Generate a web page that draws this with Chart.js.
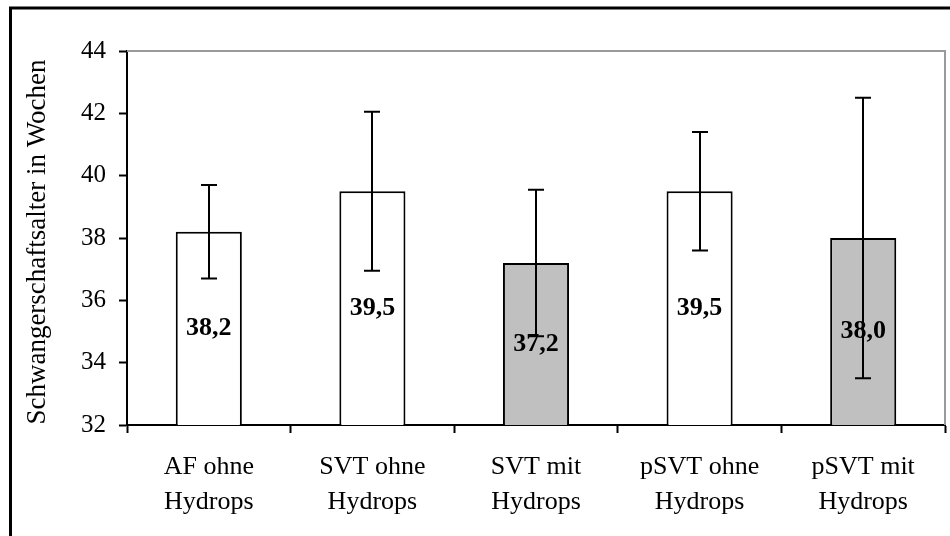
<!DOCTYPE html>
<html>
<head>
<meta charset="utf-8">
<script src="https://cdn.jsdelivr.net/npm/chart.js@4"></script>
<style>
  html, body { margin: 0; padding: 0; background: #ffffff; }
  #wrap { width: 950px; height: 536px; }
</style>
</head>
<body>
<div id="wrap"><canvas id="chart" width="950" height="536"></canvas></div>
<script>
// Gestationsalter bei Geburt nach Gruppe (Mittelwert ± SD, Wochen)
const categories = [
  ["AF ohne", "Hydrops"],
  ["SVT ohne", "Hydrops"],
  ["SVT mit", "Hydrops"],
  ["pSVT ohne", "Hydrops"],
  ["pSVT mit", "Hydrops"]
];
const meanWeeks = [38.2, 39.5, 37.2, 39.5, 38.0];
const sdWeeks = [1.5, 2.55, 2.35, 1.9, 4.5];
const withHydrops = [false, false, true, false, true];
const yTickValues = [32, 34, 36, 38, 40, 42, 44];
const yAxisTitle = "Schwangerschaftsalter in Wochen";

const SERIF = "'Liberation Serif', 'Times New Roman', serif";

const barFill = withHydrops.map(h => (h ? '#c0c0c0' : '#ffffff'));

// White page, outer frame, grey plot-area border and the y-axis title
const framePlugin = {
  id: 'frame',
  beforeDraw(chart) {
    const ctx = chart.ctx;
    ctx.save();
    ctx.fillStyle = '#ffffff';
    ctx.fillRect(0, 0, chart.width, chart.height);
    ctx.restore();
  },
  beforeDatasetsDraw(chart) {
    const { ctx, chartArea: a } = chart;
    ctx.save();
    ctx.strokeStyle = '#9a9a9a';
    ctx.lineWidth = 2;
    ctx.beginPath();
    ctx.moveTo(a.left, a.top);
    ctx.lineTo(a.right, a.top);
    ctx.lineTo(a.right, a.bottom);
    ctx.stroke();
    ctx.restore();
  },
  afterDraw(chart) {
    const { ctx, chartArea: a } = chart;
    ctx.save();
    ctx.strokeStyle = '#000000';
    ctx.lineWidth = 3;
    ctx.beginPath();
    ctx.moveTo(10.5, chart.height);
    ctx.lineTo(10.5, 8);
    ctx.lineTo(chart.width, 8);
    ctx.stroke();

    // rotated axis title, slightly below the plot's vertical centre
    ctx.translate(38, (a.top + a.bottom) / 2 + 4);
    ctx.rotate(-Math.PI / 2);
    ctx.fillStyle = '#000000';
    ctx.font = '27px "Liberation Serif", serif';
    ctx.textAlign = 'center';
    ctx.textBaseline = 'middle';
    ctx.fillText(yAxisTitle, 0, 0);
    ctx.restore();
  }
};

// Error bars (± SD) and value labels centred in each bar
const errorBarPlugin = {
  id: 'errorBars',
  afterDatasetsDraw(chart) {
    const { ctx } = chart;
    const y = chart.scales.y;
    const meta = chart.getDatasetMeta(0);
    const basePx = y.getPixelForValue(y.min);
    ctx.save();
    ctx.strokeStyle = '#000000';
    ctx.lineWidth = 2;
    meta.data.forEach((bar, i) => {
      const x = Math.round(bar.x);
      const yHi = y.getPixelForValue(meanWeeks[i] + sdWeeks[i]);
      const yLo = y.getPixelForValue(meanWeeks[i] - sdWeeks[i]);
      const cap = 8;
      ctx.beginPath();
      ctx.moveTo(x, yHi);
      ctx.lineTo(x, yLo);
      ctx.moveTo(x - cap, yHi);
      ctx.lineTo(x + cap, yHi);
      ctx.moveTo(x - cap, yLo);
      ctx.lineTo(x + cap, yLo);
      ctx.stroke();
    });
    ctx.fillStyle = '#000000';
    ctx.font = 'bold 26px "Liberation Serif", serif';
    ctx.textAlign = 'center';
    ctx.textBaseline = 'middle';
    meta.data.forEach((bar, i) => {
      const top = y.getPixelForValue(meanWeeks[i]);
      const cy = (top + basePx) / 2;
      const text = meanWeeks[i].toFixed(1).replace('.', ',');
      ctx.fillText(text, bar.x, cy);
    });
    ctx.restore();
  }
};

new Chart(document.getElementById('chart'), {
  type: 'bar',
  data: {
    labels: categories,
    datasets: [{
      data: meanWeeks,
      backgroundColor: barFill,
      borderColor: '#000000',
      borderWidth: 2,
      borderSkipped: 'bottom',
      barPercentage: 0.404,
      categoryPercentage: 1.0
    }]
  },
  options: {
    responsive: false,
    devicePixelRatio: 1,
    animation: false,
    layout: { padding: { left: 0, right: 5, top: 51, bottom: 0 } },
    plugins: {
      legend: { display: false },
      tooltip: { enabled: false },
      title: { display: false }
    },
    scales: {
      x: {
        grid: {
          offset: true,
          drawOnChartArea: false,
          drawTicks: true,
          tickLength: 8,
          tickColor: '#000000',
          tickWidth: 2
        },
        border: { display: true, color: '#000000', width: 2 },
        ticks: {
          color: '#000000',
          font: { family: SERIF, size: 26, lineHeight: 1.37 },
          maxRotation: 0,
          minRotation: 0,
          autoSkip: false,
          padding: 16
        },
        afterFit(scale) { scale.height = 111; }
      },
      y: {
        min: 32,
        max: 44,
        afterBuildTicks(scale) {
          scale.ticks = yTickValues.map(v => ({ value: v }));
        },
        grid: {
          drawOnChartArea: false,
          drawTicks: true,
          tickLength: 8,
          tickColor: '#000000',
          tickWidth: 2
        },
        border: { display: true, color: '#000000', width: 2 },
        ticks: {
          color: '#000000',
          font: { family: SERIF, size: 25 },
          padding: 13
        },
        afterFit(scale) { scale.width = 127; }
      }
    }
  },
  plugins: [framePlugin, errorBarPlugin]
});
</script>
</body>
</html>
